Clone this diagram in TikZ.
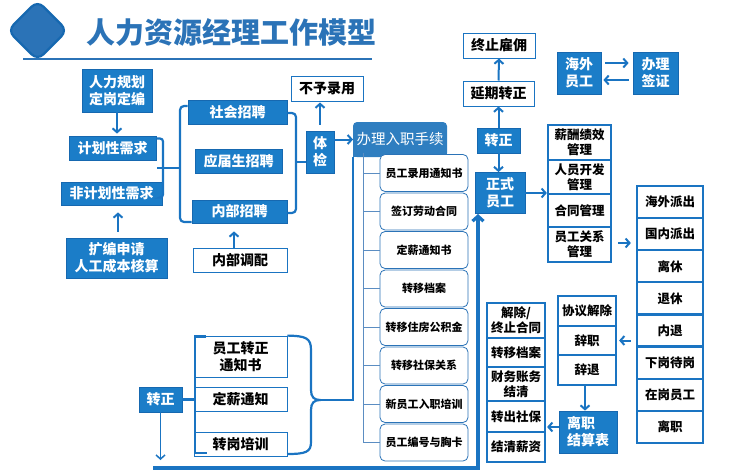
\documentclass[tikz,border=0pt]{standalone}
\usepackage{fontspec}
\setmainfont{Noto Sans CJK SC}
\usetikzlibrary{arrows.meta}
\definecolor{fblue}{HTML}{1B7DC8}
\definecolor{dblue}{HTML}{1668B0}
\definecolor{lblue}{HTML}{1A74C2}
\definecolor{tblue}{HTML}{2B73B7}
\definecolor{hblue}{HTML}{2F7EC0}
\definecolor{treec}{HTML}{5B8DC2}
\begin{document}
\begin{tikzpicture}[x=1pt,y=-1pt,
  fbox/.style={fill=fblue,draw=dblue,line width=0.8pt,text=white,font=\bfseries\fontsize{14}{17}\selectfont,inner sep=0pt,align=center},
  wbox/.style={fill=white,draw=lblue,line width=1pt,text=black,font=\bfseries\fontsize{14}{17}\selectfont,inner sep=0pt,align=center},
  item/.style={fill=white,draw=tblue,line width=0.8pt,rounded corners=5pt,text=black,font=\bfseries\fontsize{11}{13}\selectfont,minimum width=88pt,minimum height=37pt,inner sep=0pt},
  cell/.style={fill=white,draw=lblue,line width=2.2pt,text=black,font=\bfseries\fontsize{12.5}{15}\selectfont,inner sep=0pt,align=center},
  conn/.style={draw=lblue,line width=2.2pt},
  arr/.style={draw=lblue,line width=2pt,-{Straight Barb[length=4pt,width=9pt]}},
]
\useasboundingbox (0,0) rectangle (746,474);
% title
\node[draw=dblue,fill=tblue,line width=2.2pt,rounded corners=8pt,minimum size=42pt,rotate=45] (dia) at (37.5,30.5) {};
\node[text=tblue,font=\bfseries\fontsize{29}{32}\selectfont,anchor=west,inner sep=0pt] (title) at (86,32) {人力资源经理工作模型};
\draw[tblue,line width=1.5pt] (23,59) -- (372,59);
% left demand
\node[fbox,minimum width=70pt,minimum height=43pt] (plan) at (117,90.5) {人力规划\\定岗定编};
\node[fbox,minimum width=87pt,minimum height=24pt] (jh) at (112.5,148) {计划性需求};
\node[fbox,minimum width=101pt,minimum height=23pt] (fjh) at (111.5,193.5) {非计划性需求};
\node[fbox,minimum width=101pt,minimum height=40pt] (kb) at (116.5,258) {扩编申请\\人工成本核算};
\node[fbox,minimum width=99pt,minimum height=24pt] (sh) at (237.5,112) {社会招聘};
\node[fbox,minimum width=87pt,minimum height=24pt] (yj) at (238.5,161) {应届生招聘};
\node[fbox,minimum width=95pt,minimum height=23pt] (nb) at (239.5,211.5) {内部招聘};
\node[wbox,minimum width=94pt,minimum height=24pt] (nbdp) at (240,260) {内部调配};
\node[wbox,minimum width=72pt,minimum height=25pt] (byly) at (327,88.5) {不予录用};
\node[fbox,minimum width=28pt,minimum height=42pt] (tj) at (320,152) {体\\检};
% onboarding
\fill[hblue,rounded corners=4pt] (353,122) rectangle (447,157);
\fill[hblue] (353,140) rectangle (447,157);
\node[text=white,font=\fontsize{14.5}{17}\selectfont,inner sep=0pt] (rz) at (400,139.5) {办理入职手续};
\draw[treec,line width=1pt] (363,153) -- (363,442.5);
\foreach \t [count=\i] in {员工录用通知书,签订劳动合同,定薪通知书,转移档案,转移住房公积金,转移社保关系,新员工入职培训,员工编号与胸卡}{
  \node[item] (it\i) at (424,{173+38.5*(\i-1)}) {\t};
  \draw[treec,line width=1pt] (363,{173+38.5*(\i-1)}) -- (it\i.west);
}
% top right
\node[wbox,minimum width=72pt,minimum height=25pt] (zzgy) at (499,45.5) {终止雇佣};
\node[wbox,minimum width=71pt,minimum height=25pt] (yq) at (498.5,93.5) {延期转正};
\node[fbox,minimum width=43pt,minimum height=25pt] (zz2) at (498.5,140.5) {转正};
\node[fbox,minimum width=50pt,minimum height=41pt] (zz) at (500,193) {正式\\员工};
\node[fbox,minimum width=44pt,minimum height=42pt] (hw) at (579,73) {海外\\员工};
\node[fbox,minimum width=45pt,minimum height=42pt] (bl) at (655.5,73) {办理\\签证};
% management column
\node[cell,minimum width=63pt,minimum height=35pt] (m1) at (579.5,142.5) {薪酬绩效\\管理};
\node[cell,minimum width=63pt,minimum height=34pt] (m2) at (579.5,177) {人员开发\\管理};
\node[cell,minimum width=63pt,minimum height=33pt] (m3) at (579.5,210.5) {合同管理};
\node[cell,minimum width=63pt,minimum height=35pt] (m4) at (579.5,244.5) {员工关系\\管理};
% right column
\foreach \t [count=\i] in {海外派出,国内派出,离休,退休,内退,下岗待岗,在岗员工,离职}{
  \node[cell,minimum width=66pt,minimum height=32.1pt] (r\i) at (670,{202.05+32.1*(\i-1)}) {\t};
}
% exit
\node[cell,minimum width=58pt,minimum height=30pt] (q1) at (587,311) {协议解除};
\node[cell,minimum width=58pt,minimum height=29pt] (q2) at (587,340.5) {辞职};
\node[cell,minimum width=58pt,minimum height=30pt] (q3) at (587,370) {辞退};
\node[fbox,minimum width=58pt,minimum height=42pt,align=left] (lz) at (588,432) {离职\\结算表};
\node[cell,minimum width=58pt,minimum height=35pt] (e1) at (516,320.5) {解除/\\终止合同};
\node[cell,minimum width=58pt,minimum height=29pt] (e2) at (516,352.5) {转移档案};
\node[cell,minimum width=58pt,minimum height=34pt] (e3) at (516,384) {财务账务\\结清};
\node[cell,minimum width=58pt,minimum height=31pt] (e4) at (516,416.5) {转出社保};
\node[cell,minimum width=58pt,minimum height=30pt] (e5) at (516,447) {结清薪资};
% bottom left
\node[wbox,line width=0.8pt,minimum width=93pt,minimum height=41pt] (zn) at (240.5,356.5) {员工转正\\通知书};
\node[wbox,line width=0.8pt,minimum width=93pt,minimum height=24pt] (dx) at (240.5,399) {定薪通知};
\node[wbox,line width=0.8pt,minimum width=93pt,minimum height=24pt] (zg) at (240.5,444) {转岗培训};
\node[fbox,minimum width=43pt,minimum height=25pt] (zz3) at (160.5,399.5) {转正};
% connectors left
\draw[arr,shorten >=2pt] (plan.south) -- (plan.south|-jh.north);
\draw[arr,shorten <=6pt,shorten >=7pt] ([xshift=1.5pt]kb.north) -- ([xshift=1.5pt]kb.north|-fjh.south);
\draw[conn,rounded corners=3pt] (jh.east|-0,138.5) -- (163,138.5) -- (163,197.5) -- (fjh.east|-0,197.5);
\draw[conn] (157,168) -- (180,168);
\draw[conn,rounded corners=4pt] (sh.west|-0,106) -- (180,106) -- (180,222) -- (nb.west|-0,222);
\draw[conn,rounded corners=4pt] (sh.east|-0,113) -- (296,113) -- (296,213) -- (nb.east|-0,213);
\draw[conn] (296,162) -- (tj.west|-0,162);
\draw[arr,shorten >=8pt] ([xshift=-6pt]nbdp.north) -- ([xshift=-6pt]nbdp.north|-nb.south);
\draw[arr,shorten <=6pt,shorten >=1pt] (tj.north) -- (tj.north|-byly.south);
\draw[arr] (tj.east|-rz.west) -- (353,139.5);
% bottom-left brace
\draw[conn] (zn.north east) .. controls (306,336) and (311,338) .. (311,350) -- (311,390) .. controls (311,397) and (314,400) .. (320,400) .. controls (314,400) and (311,403) .. (311,410) -- (311,442) .. controls (311,452) and (306,454) .. (287,454);
\draw[conn,line width=2pt] (320,400) -- (352.5,400) -- (352.5,157);
\draw[conn] (206,336.5) -- (195,336.5) -- (195,453) -- (207,453);
\draw[conn] (zz3.east) -- (195,399.5);
\draw[arr,line width=1.5pt] (zz3.south) -- (160.5,460);
\draw[draw=lblue,line width=3.2pt,-{Straight Barb[length=5pt,width=11pt]}] (153,468) -- (478,468) -- (478,214);
% right connectors
\draw[arr] (yq.north) -- (zzgy.south);
\draw[arr] (zz2.north) -- (yq.south);
\draw[arr] (zz2.south) -- (zz2.south|-zz.north);
\draw[arr] (zz.east) -- (zz.east-|m3.west);
\draw[arr] ([yshift=10pt,xshift=4pt]hw.east) -- ([yshift=10pt,xshift=-4pt]bl.west);
\draw[arr] ([yshift=-7pt,xshift=-4pt]bl.west) -- ([yshift=-7pt,xshift=2pt]hw.east);
\draw[arr] ([xshift=6pt,yshift=1.5pt]m4.east) -- ([xshift=-5pt,yshift=1.5pt]m4.east-|r2.west);
\draw[arr] ([xshift=-5pt]q2.east-|r5.west) -- ([xshift=2pt]q2.east);
\draw[arr] ([xshift=-2pt]q3.south) -- ([xshift=-2pt]q3.south|-lz.north);
\draw[arr] ([yshift=5pt]lz.west) -- ([yshift=5pt,xshift=1pt]lz.west-|e4.east);
\end{tikzpicture}
\end{document}
